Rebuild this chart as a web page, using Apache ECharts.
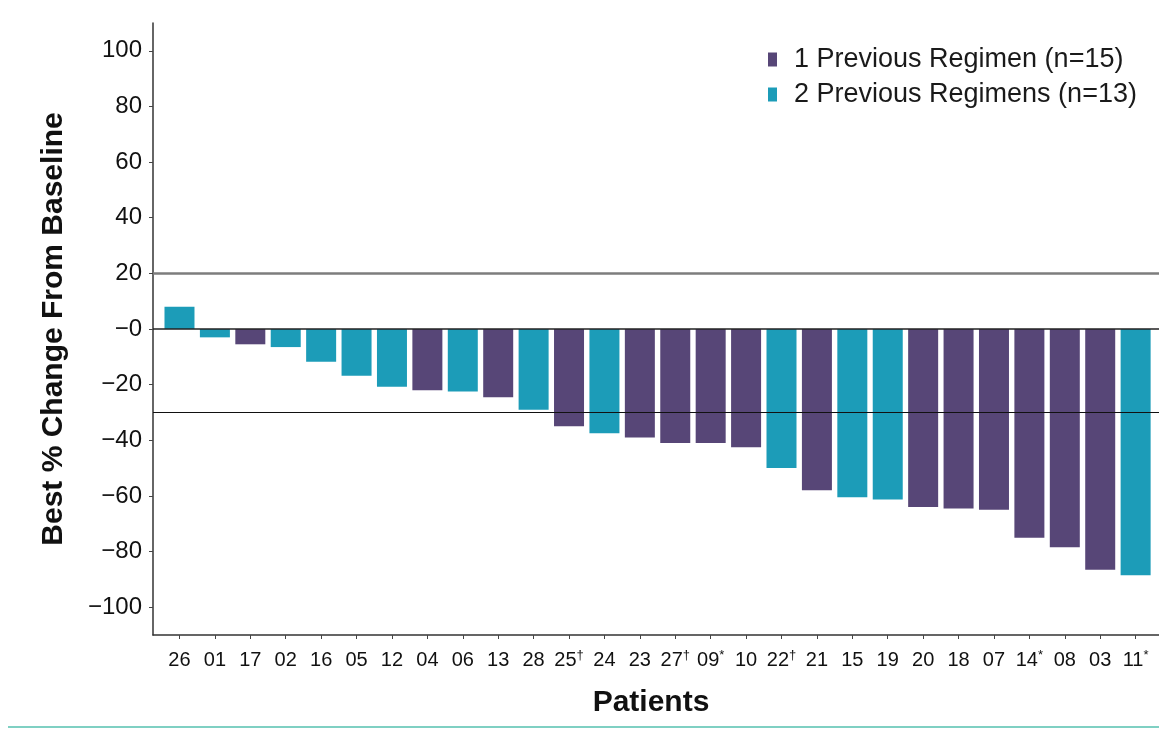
<!DOCTYPE html>
<html>
<head>
<meta charset="utf-8">
<script src="https://cdn.jsdelivr.net/npm/echarts@6/dist/echarts.min.js"></script>
<style>
  html, body { margin: 0; padding: 0; background: #ffffff; }
  #chart { width: 1159px; height: 731px; }
</style>
</head>
<body>
<div id="chart"></div>
<script>
// Patient identifiers in waterfall order, with footnote marks
const patients = ['26', '01', '17', '02', '16', '05', '12', '04', '06', '13', '28', '25', '24', '23',
                  '27', '09', '10', '22', '21', '15', '19', '20', '18', '07', '14', '08', '03', '11'];
const marks = ['', '', '', '', '', '', '', '', '', '', '', '†', '', '',
               '†', '*', '', '†', '', '', '', '', '', '', '*', '', '', '*'];
// Best % change from baseline for each patient
const bestChange = [8, -3, -5.5, -6.5, -11.8, -16.8, -20.8, -22, -22.5, -24.5, -29, -35, -37.5, -39,
                    -41, -41, -42.5, -50, -58, -60.5, -61.3, -64, -64.5, -65, -75, -78.5, -86.5, -88.5];
// Number of previous regimens for each patient
const regimens = [2, 2, 1, 2, 2, 2, 2, 1, 2, 1, 2, 1, 2, 1,
                  1, 1, 1, 2, 1, 2, 2, 1, 1, 1, 1, 1, 1, 2];
const groupNames = ['1 Previous Regimen (n=15)', '2 Previous Regimens (n=13)'];
const groupColors = ['#574677', '#1c9cb8'];
const yTicks = [100, 80, 60, 40, 20, 0, -20, -40, -60, -80, -100];
const refLines = [20, 0, -30];

const idx = patients.map((_, i) => i);
const seriesFor = (g) => idx.filter(i => regimens[i] === g).map(i => [i, bestChange[i]]);

const chart = echarts.init(document.getElementById('chart'), null, { renderer: 'canvas' });
const font = '"Liberation Sans", Arial, Helvetica, sans-serif';

chart.setOption({
  backgroundColor: '#ffffff',
  animation: false,
  title: {
    text: 'Patients',
    left: 646,
    top: 683,
    textAlign: 'center',
    textStyle: { fontFamily: font, fontWeight: 'bold', fontSize: 30, color: '#111' }
  },
  legend: {
    orient: 'vertical',
    left: 763,
    top: 41,
    itemWidth: 9,
    itemHeight: 14,
    itemGap: 8,
    icon: 'rect',
    textStyle: { fontFamily: font, fontSize: 27, color: '#1a1a1a', padding: [0, 0, 0, 12] },
    data: groupNames
  },
  grid: { left: 153, right: 0, top: 23, bottom: 96, containLabel: false },
  xAxis: {
    type: 'value',
    min: -0.748,
    max: 27.66,
    splitLine: { show: false },
    axisLine: { show: true, onZero: false, lineStyle: { color: '#333', width: 1.5 } },
    axisTick: { show: true, customValues: idx, length: 4, lineStyle: { color: '#444' } },
    axisLabel: {
      customValues: idx,
      margin: 14,
      formatter: (v) => {
        const i = Math.round(v);
        return marks[i] ? '{n|' + patients[i] + '}{s|' + marks[i] + '}' : '{n|' + patients[i] + '}';
      },
      rich: {
        n: { fontFamily: font, fontSize: 20, color: '#111', lineHeight: 22 },
        s: { fontFamily: font, fontSize: 13, color: '#111', verticalAlign: 'top', lineHeight: 22 }
      }
    }
  },
  yAxis: {
    type: 'value',
    min: -110,
    max: 110,
    name: 'Best % Change From Baseline',
    nameLocation: 'middle',
    nameGap: 84,
    nameTextStyle: { fontFamily: font, fontWeight: 'bold', fontSize: 30, color: '#111' },
    splitLine: { show: false },
    axisLine: { show: true, onZero: false, lineStyle: { color: '#333', width: 1.5 } },
    axisTick: { show: true, customValues: yTicks, length: 4, lineStyle: { color: '#444' } },
    axisLabel: {
      customValues: yTicks,
      margin: 11,
      fontFamily: font,
      fontSize: 24,
      color: '#111',
      formatter: (v) => (v < 0 || v === 0 ? '\u2212' + Math.abs(v) : String(v))
    }
  },
  series: [
    {
      name: groupNames[0],
      type: 'bar',
      barWidth: 30,
      itemStyle: { color: groupColors[0] },
      data: seriesFor(1),
      markLine: {
        silent: true,
        symbol: 'none',
        label: { show: false },
        data: refLines.map((v, k) => ({
          yAxis: v,
          lineStyle: {
            type: 'solid',
            color: ['#7d7d7d', '#222', '#111'][k],
            width: [2.5, 1.6, 1.2][k]
          }
        }))
      },
      z: 2
    },
    {
      name: groupNames[1],
      type: 'bar',
      barWidth: 30,
      barGap: '-100%',
      itemStyle: { color: groupColors[1] },
      data: seriesFor(2),
      z: 2
    }
  ],
  graphic: [
    {
      type: 'line',
      shape: { x1: 8, y1: 727, x2: 1159, y2: 727 },
      style: { stroke: '#7fd0c3', lineWidth: 2 },
      silent: true
    }
  ]
});
</script>
</body>
</html>
